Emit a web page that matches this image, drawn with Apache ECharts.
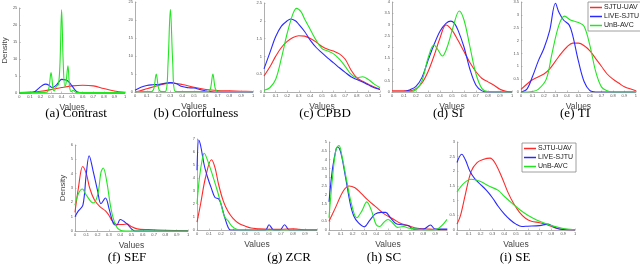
<!DOCTYPE html>
<html><head><meta charset="utf-8">
<script src="https://cdn.jsdelivr.net/npm/echarts@6/dist/echarts.min.js"></script>
<style>html,body{margin:0;padding:0;background:#fff}#c{width:640px;height:267px}</style>
</head><body><div id="c"></div>
<script>
const seriesNames = ['SJTU-UAV', 'LIVE-SJTU', 'UnB-AVC'];
const captions = ['(a) Contrast', '(b) Colorfulness', '(c) CPBD', '(d) SI', '(e) TI', '(f) SEF', '(g) ZCR', '(h) SC', '(i) SE'];
const yMaxes = [25, 25, 2.5, 4, 3.5, 6, 7, 5, 3];
const ySteps = [5, 5, 0.5, 0.5, 0.5, 1, 1, 0.5, 0.5];

const contrastRed = [[0,0.1],[0.1,0.25],[0.2,0.5],[0.3,1.0],[0.4,1.6],[0.5,2.1],[0.6,2.3],[0.7,2.1],[0.8,1.3],[0.9,0.6],[1,0.2]];
const contrastBlue = [[0,0],[0.1,0.05],[0.14,0.3],[0.18,1.3],[0.22,2.3],[0.25,2.6],[0.28,2.3],[0.31,1.6],[0.35,2.3],[0.38,3.5],[0.4,4.0],[0.44,3.8],[0.47,3.2],[0.5,2.0],[0.53,0.8],[0.56,0.2],[0.6,0],[1,0]];
const contrastGreen = [[0,0.1],[0.2,0.1],[0.26,0.2],[0.28,1.5],[0.3,6],[0.32,1],[0.33,0.6],[0.35,2],[0.37,2.5],[0.385,9],[0.4,24.5],[0.415,9],[0.43,2],[0.44,2.5],[0.46,8],[0.475,2],[0.49,0.4],[0.51,0.8],[0.54,0.1],[1,0.1]];

const colorRed = [[0,0],[0.05,0.4],[0.1,0.9],[0.2,1.8],[0.3,2.5],[0.4,2.1],[0.5,1.3],[0.6,0.7],[0.7,0.4],[0.8,0.3],[0.9,0.2],[1,0.1]];
const colorBlue = [[0,0.5],[0.05,1.3],[0.1,1.8],[0.15,2.0],[0.2,2.1],[0.3,2.6],[0.35,2.3],[0.4,1.5],[0.45,1.2],[0.5,1.1],[0.55,0.7],[0.6,0.3],[0.65,0.05],[0.7,0],[1,0]];
const colorGreen = [[0,0.1],[0.14,0.1],[0.16,1],[0.18,5],[0.2,1],[0.22,0.1],[0.26,0.2],[0.28,8],[0.3,23],[0.32,8],[0.34,0.2],[0.4,0.1],[0.62,0.1],[0.64,1],[0.66,5],[0.68,1],[0.7,0.2],[1,0.1]];

const cpbdRed = [[0,0.45],[0.05,0.7],[0.1,1.0],[0.15,1.25],[0.2,1.42],[0.25,1.53],[0.3,1.58],[0.35,1.57],[0.4,1.5],[0.45,1.4],[0.5,1.28],[0.55,1.2],[0.6,1.15],[0.65,1.07],[0.7,0.92],[0.75,0.62],[0.8,0.4],[0.85,0.3],[0.9,0.22],[0.95,0.14],[1,0.08]];
const cpbdBlue = [[0,0.65],[0.05,1.1],[0.1,1.55],[0.15,1.85],[0.2,2.0],[0.23,2.05],[0.27,2.0],[0.3,1.9],[0.35,1.7],[0.4,1.45],[0.45,1.25],[0.5,1.1],[0.55,0.95],[0.6,0.82],[0.65,0.68],[0.7,0.55],[0.75,0.43],[0.8,0.35],[0.85,0.28],[0.9,0.2],[0.95,0.12],[1,0.07]];
const cpbdGreen = [[0,0.05],[0.05,0.12],[0.1,0.35],[0.15,0.95],[0.2,1.65],[0.25,2.2],[0.28,2.35],[0.32,2.25],[0.35,2.05],[0.4,1.75],[0.45,1.45],[0.5,1.22],[0.55,1.15],[0.6,1.07],[0.65,0.92],[0.7,0.72],[0.75,0.5],[0.8,0.4],[0.85,0.43],[0.9,0.35],[0.95,0.22],[1,0.12]];

const siRed = [[0,0.05],[0.1,0.05],[0.15,0.05],[0.2,0.15],[0.25,0.4],[0.3,0.9],[0.35,1.6],[0.4,2.4],[0.45,2.98],[0.5,2.75],[0.55,2.3],[0.6,1.8],[0.65,1.3],[0.7,0.9],[0.75,0.6],[0.8,0.45],[0.85,0.3],[0.9,0.12],[0.95,0.03],[1,0]];
const siBlue = [[0,0.02],[0.1,0.02],[0.15,0.1],[0.2,0.25],[0.25,0.65],[0.3,1.4],[0.35,2.1],[0.4,2.7],[0.45,3.05],[0.49,3.15],[0.52,3.05],[0.55,2.75],[0.6,2.0],[0.65,1.0],[0.7,0.3],[0.75,0.05],[0.8,0],[1,0]];
const siGreen = [[0,0.02],[0.15,0.02],[0.2,0.1],[0.25,0.5],[0.3,1.5],[0.35,2.1],[0.38,1.9],[0.42,1.6],[0.46,2.0],[0.51,2.9],[0.56,3.6],[0.6,3.2],[0.65,2.0],[0.7,0.8],[0.75,0.15],[0.8,0.02],[1,0]];

const tiRed = [[0,0.1],[0.05,0.3],[0.1,0.48],[0.2,0.7],[0.25,0.9],[0.3,1.2],[0.35,1.5],[0.4,1.75],[0.45,1.9],[0.5,1.9],[0.55,1.8],[0.6,1.6],[0.65,1.3],[0.7,1.0],[0.75,0.7],[0.8,0.5],[0.85,0.35],[0.9,0.2],[1,0.05]];
const tiBlue = [[0,0],[0.05,0.1],[0.1,0.6],[0.15,1.2],[0.2,1.7],[0.25,2.4],[0.3,3.45],[0.33,3.1],[0.37,2.8],[0.42,2.6],[0.45,2.2],[0.5,1.2],[0.55,0.4],[0.6,0.05],[0.65,0],[1,0]];
const tiGreen = [[0,0],[0.1,0.02],[0.15,0.1],[0.22,0.5],[0.27,1.5],[0.33,2.6],[0.38,2.95],[0.43,2.8],[0.5,2.7],[0.55,2.55],[0.6,1.8],[0.65,0.8],[0.7,0.2],[0.75,0.05],[0.8,0],[1,0]];

const sefRed = [[0,1.3],[0.03,3.0],[0.068,4.5],[0.1,4.0],[0.13,3.0],[0.17,2.2],[0.22,1.7],[0.27,1.4],[0.3,1.1],[0.33,0.7],[0.37,0.45],[0.42,0.45],[0.46,0.5],[0.5,0.3],[0.55,0.15],[0.65,0.1],[0.8,0.05],[1,0.02]];
const sefBlue = [[0,1.0],[0.03,1.4],[0.07,1.8],[0.1,4.0],[0.125,5.25],[0.16,4.2],[0.2,2.8],[0.23,1.9],[0.27,2.3],[0.3,1.6],[0.34,0.5],[0.37,0.4],[0.4,0.8],[0.46,0.5],[0.5,0.15],[0.53,0],[1,0]];
const sefGreen = [[0,1.8],[0.03,2.6],[0.065,2.93],[0.1,2.5],[0.16,1.95],[0.2,2.5],[0.23,4.1],[0.25,4.4],[0.28,3.5],[0.32,1.5],[0.36,0.4],[0.4,0.05],[0.45,0],[1,0]];

const zcrRed = [[0,0.6],[0.03,2.0],[0.07,4.0],[0.12,5.4],[0.15,4.8],[0.18,3.5],[0.22,2.2],[0.26,1.4],[0.3,0.9],[0.35,0.5],[0.4,0.3],[0.45,0.15],[0.5,0.1],[0.6,0.05],[0.7,0.05],[0.8,0.1],[0.85,0.05],[0.9,0],[1,0]];
const zcrBlue = [[0,4.6],[0.015,6.9],[0.03,6.5],[0.06,5.0],[0.09,4.0],[0.12,3.2],[0.15,2.5],[0.18,2.4],[0.2,2.0],[0.23,1.0],[0.26,0.2],[0.28,0],[0.57,0],[0.6,0.4],[0.64,0],[0.69,0],[0.73,0.4],[0.77,0],[1,0]];
const zcrGreen = [[0,2.0],[0.02,4.0],[0.045,5.5],[0.06,5.9],[0.09,5.3],[0.13,4.2],[0.17,3.0],[0.2,2.0],[0.23,1.0],[0.26,0.7],[0.29,0.3],[0.33,0.05],[0.36,0],[1,0]];

const scRed = [[0,0.5],[0.05,1.2],[0.12,2.2],[0.17,2.5],[0.22,2.4],[0.27,2.1],[0.33,1.7],[0.4,1.3],[0.47,0.9],[0.55,0.6],[0.6,0.4],[0.67,0.25],[0.75,0.1],[0.85,0.05],[1,0.02]];
const scBlue = [[0,1.6],[0.03,3.5],[0.06,4.6],[0.073,4.72],[0.1,4.4],[0.14,3.0],[0.18,1.5],[0.21,0.8],[0.25,0.4],[0.3,0.18],[0.34,0.5],[0.39,0.9],[0.44,1.0],[0.48,1.0],[0.52,0.7],[0.57,0.35],[0.62,0.3],[0.67,0.25],[0.72,0.05],[0.8,0.05],[0.86,0.28],[0.9,0.05],[1,0.05]];
const scGreen = [[0,0.7],[0.03,3.0],[0.06,4.6],[0.085,4.8],[0.11,4.2],[0.15,2.8],[0.19,1.5],[0.235,0.7],[0.28,1.1],[0.32,1.6],[0.36,1.1],[0.4,0.3],[0.43,0.2],[0.46,0.4],[0.5,0.6],[0.54,0.4],[0.58,0.15],[0.63,0.2],[0.68,0.1],[0.75,0.05],[0.85,0],[0.93,0.1],[1,0.6]];

const seRed = [[0,0.2],[0.03,0.5],[0.07,1.2],[0.12,2.0],[0.17,2.3],[0.22,2.4],[0.28,2.45],[0.32,2.3],[0.38,1.8],[0.43,1.3],[0.48,0.9],[0.53,0.6],[0.58,0.4],[0.63,0.3],[0.7,0.25],[0.75,0.2],[0.8,0.12],[0.85,0.05],[0.9,0.02],[1,0]];
const seBlue = [[0,2.3],[0.04,2.58],[0.07,2.4],[0.11,2.0],[0.15,1.75],[0.2,1.55],[0.25,1.35],[0.3,1.1],[0.35,0.8],[0.4,0.55],[0.45,0.35],[0.5,0.2],[0.55,0.12],[0.6,0.13],[0.7,0.15],[0.77,0.2],[0.8,0.15],[0.85,0.05],[0.9,0.02],[1,0]];
const seGreen = [[0,1.3],[0.06,1.6],[0.12,1.73],[0.2,1.65],[0.27,1.5],[0.35,1.35],[0.4,1.15],[0.47,0.9],[0.53,0.7],[0.6,0.5],[0.67,0.35],[0.73,0.25],[0.8,0.15],[0.87,0.08],[0.93,0.03],[1,0.01]];

const panelData = [
  [contrastRed, contrastBlue, contrastGreen],
  [colorRed, colorBlue, colorGreen],
  [cpbdRed, cpbdBlue, cpbdGreen],
  [siRed, siBlue, siGreen],
  [tiRed, tiBlue, tiGreen],
  [sefRed, sefBlue, sefGreen],
  [zcrRed, zcrBlue, zcrGreen],
  [scRed, scBlue, scGreen],
  [seRed, seBlue, seGreen]
];

// layout (pixels)
const grids = [
  {left:13, top:8, width:112, height:85},
  {left:135, top:2, width:118, height:90},
  {left:264, top:3, width:116, height:89},
  {left:392, top:2, width:120, height:90},
  {left:521, top:2, width:117, height:90},
  {left:75, top:145, width:113, height:86},
  {left:197, top:139, width:120, height:91},
  {left:329, top:142, width:118, height:88},
  {left:457, top:142, width:118, height:88}
];
const captionPos = [[76,114],[196,114],[325,114],[448,114],[575,114],[127,258],[289,258],[384,258],[515,258]];
const colors = ['#ff2a2a', '#2a2aff', '#22e622'];
const axisCol = '#9a9a9a';
const labelFont = 'Liberation Sans, Arial, sans-serif';

const xAxes = [], yAxes = [], series = [], graphics = [];
grids.forEach((g, i) => {
  xAxes.push({
    gridIndex: i, type: 'value', min: 0, max: 1, interval: 0.1,
    name: 'Values', nameLocation: 'middle', nameGap: 10,
    nameTextStyle: {fontSize: 8.5, color: '#444', fontFamily: labelFont},
    axisLine: {show: true, lineStyle: {color: axisCol, width: 0.8}},
    axisTick: {show: true, inside: true, length: 1.5, lineStyle: {color: axisCol, width: 0.6}},
    axisLabel: {fontSize: 4, color: '#555', margin: 2, fontFamily: labelFont},
    splitLine: {show: false}
  });
  yAxes.push({
    gridIndex: i, type: 'value', min: 0, max: yMaxes[i], interval: ySteps[i],
    name: (i === 0 || i === 5) ? 'Density' : '', nameLocation: 'middle', nameGap: 7,
    nameTextStyle: {fontSize: 8, color: '#444', fontFamily: labelFont},
    axisLine: {show: true, lineStyle: {color: axisCol, width: 0.8}},
    axisTick: {show: true, inside: true, length: 1.5, lineStyle: {color: axisCol, width: 0.6}},
    axisLabel: {fontSize: 4, color: '#555', margin: 2, fontFamily: labelFont},
    splitLine: {show: false}
  });
  panelData[i].forEach((d, k) => {
    series.push({
      type: 'line', name: seriesNames[k], xAxisIndex: i, yAxisIndex: i,
      data: d, smooth: 0.35, symbol: 'none', showSymbol: false,
      lineStyle: {color: colors[k], width: 1.1}, itemStyle: {color: colors[k]},
      z: 2 + k, silent: true, animation: false
    });
  });
  graphics.push({
    type: 'text', x: captionPos[i][0], y: captionPos[i][1],
    style: {text: captions[i], fill: '#000', font: '13px "Liberation Serif", "Times New Roman", serif', align: 'center', verticalAlign: 'middle'}
  });
});

const legendBase = {
  orient: 'vertical', data: seriesNames, selectedMode: false,
  icon: 'rect', itemWidth: 12, itemHeight: 1.5, itemGap: 2, padding: [2, 3, 2, 2],
  borderColor: '#888', borderWidth: 0.8, backgroundColor: '#fff',
  textStyle: {fontSize: 7, lineHeight: 7, color: '#222', fontFamily: labelFont, padding: [0, 0, 0, -3]}
};

const chart = echarts.init(document.getElementById('c'), null, {renderer: 'canvas'});
chart.setOption({
  animation: false,
  grid: grids.map(g => Object.assign({containLabel: false}, g)),
  xAxis: xAxes, yAxis: yAxes, series: series,
  legend: [
    Object.assign({left: 588, top: 2}, legendBase),
    Object.assign({left: 522, top: 143}, legendBase)
  ],
  graphic: graphics
});
</script></body></html>
